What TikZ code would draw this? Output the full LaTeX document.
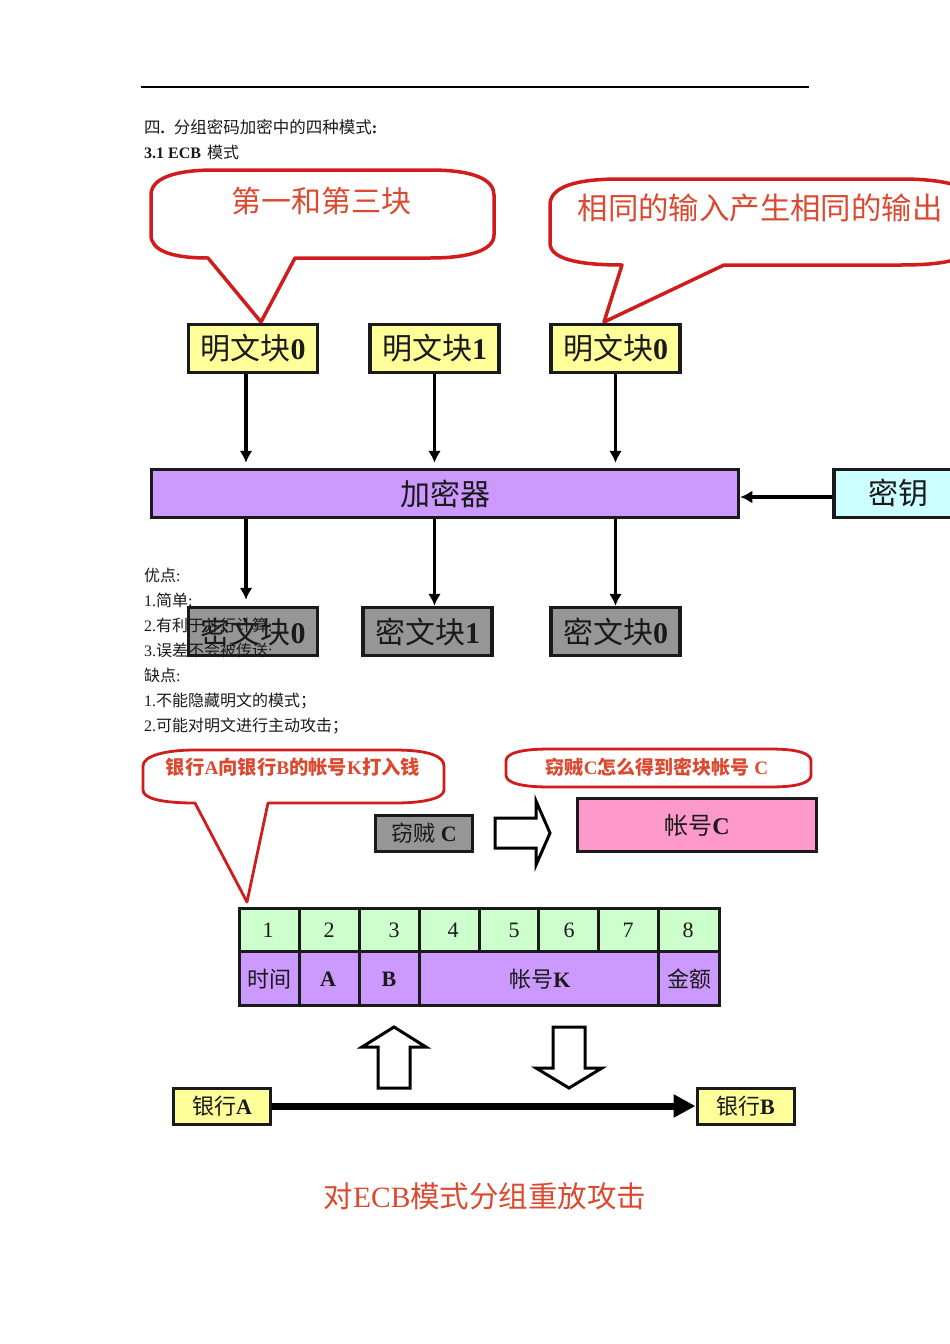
\documentclass[tikz,border=0pt]{standalone}
\usepackage{fontspec}
\usetikzlibrary{arrows.meta,calc}
\setmainfont{Liberation Serif}
\newfontfamily\zhfont{Noto Sans CJK SC}
\newcommand{\zh}[1]{{\zhfont #1}}
\newcommand{\fsz}[1]{\fontsize{#1}{#1}\selectfont}
\definecolor{yel}{HTML}{FFFF99}
\definecolor{pur}{HTML}{CC99FF}
\definecolor{cyn}{HTML}{CCFFFF}
\definecolor{gry}{HTML}{969696}
\definecolor{pnk}{HTML}{FF99CC}
\definecolor{grn}{HTML}{CCFFCC}
\definecolor{redl}{HTML}{D01C1C}
\definecolor{redt}{HTML}{DB4A30}
\definecolor{ink}{HTML}{1A1A1A}
\tikzset{
  x=1pt,y=-1pt,
  block/.style={draw=ink,line width=3.5pt,inner sep=0pt,text=ink,font=\fsz{30}},
  smallblock/.style={draw=ink,line width=3pt,inner sep=0pt,text=ink,font=\fsz{22}},
  flow/.style={draw=black,line width=3.5pt,-{Latex[length=12pt,width=13pt]}},
  callout/.style={draw=redl,line width=3.5pt,fill=white,line join=round},
  calloutthin/.style={draw=redl,line width=2.8pt,fill=white,line join=round},
  calltext/.style={text=redt,inner sep=0pt},
  para/.style={anchor=base west,inner sep=0pt,text=ink,font=\fsz{16}},
  hollow/.style={draw=black,line width=3pt,fill=white,line join=miter},
  cell/.style={draw=ink,line width=3pt},
  celltext/.style={inner sep=0pt,text=ink,font=\fsz{22}}
}
\begin{document}
\begin{tikzpicture}
\clip (0,0) rectangle (950,1344);
\fill[white] (0,0) rectangle (950,1344);
\draw[line width=1.5pt,black] (141,87) -- (809,87);

% upper callouts
\draw[callout] (208,258) .. controls (170,258) and (151,250) .. (151,235) -- (151,195)
  .. controls (151,178) and (175,170) .. (215,170) -- (430,170)
  .. controls (475,170) and (494,180) .. (494,195) -- (494,235)
  .. controls (494,250) and (470,258) .. (430,258) -- (295,258) -- (261,322) -- cycle;
\node[calltext,font=\fsz{30}] (call1) at (321,201) {\zh{第一和第三块}};
\draw[callout] (622,265) .. controls (575,265) and (550,258) .. (550,243) -- (550,205)
  .. controls (550,187) and (575,179) .. (620,179) -- (900,179)
  .. controls (935,179) and (960,183) .. (975,195) -- (975,250)
  .. controls (960,262) and (935,265) .. (900,265) -- (724,265) -- (604,322) -- cycle;
\node[calltext,font=\fsz{30.4}] (call2) at (760,208) {\zh{相同的输入产生相同的输出}};

% upper blocks
\node[block,fill=yel,minimum width=129pt,minimum height=48pt] (p0) at (253,348.5) {\zh{明文块}\textbf{0}};
\node[block,fill=yel,minimum width=129pt,minimum height=48pt] (p1) at (434.5,348.5) {\zh{明文块}\textbf{1}};
\node[block,fill=yel,minimum width=129pt,minimum height=48pt] (p2) at (615.5,348.5) {\zh{明文块}\textbf{0}};
\node[block,fill=pur,minimum width=587pt,minimum height=48pt] (enc) at (445,493.5) {\raisebox{-1.5pt}{\zh{加密器}}};
\node[block,fill=cyn,minimum width=130pt,minimum height=48pt] (key) at (899,493.5) {\raisebox{-1.5pt}{\hspace*{-2pt}\zh{密钥}}};
\node[block,fill=gry,minimum width=129pt,minimum height=48pt] (c0) at (253,631.5) {\zh{密文块}\textbf{0}};
\node[block,fill=gry,minimum width=129pt,minimum height=48pt] (c1) at (427.5,631.5) {\zh{密文块}\textbf{1}};
\node[block,fill=gry,minimum width=129pt,minimum height=48pt] (c2) at (615.5,631.5) {\zh{密文块}\textbf{0}};

\coordinate (a0) at ($(p0.south)+(-7,0)$);
\coordinate (a1) at (p1.south);
\coordinate (a2) at (p2.south);
\draw[flow,shorten >=5pt] (a0) -- (a0 |- enc.north);
\draw[flow,shorten >=5pt] (a1) -- (a1 |- enc.north);
\draw[flow,shorten >=5pt] (a2) -- (a2 |- enc.north);
\coordinate (b0) at ($(c0.north)+(-7,0)$);
\coordinate (b1) at ($(c1.north)+(7,0)$);
\coordinate (b2) at (c2.north);
\draw[flow,shorten >=6pt] (b0 |- enc.south) -- (b0);
\draw[flow] (b1 |- enc.south) -- (b1);
\draw[flow] (b2 |- enc.south) -- (b2);
\coordinate (k0) at ($(key.west)+(0,3.5)$);
\draw[flow] (k0) -- (k0 -| enc.east);

% body text
\node[para,font=\fsz{16.5}] (t1) at (144,133) {\zh{四}\textbf{.}\hspace{9pt}\zh{分组密码加密中的四种模式}\textbf{:}};
\node[para] (t2) at (144,158) {\textbf{3.1 ECB}\hspace{6pt}\zh{模式}};
\node[para] (t3) at (144,581) {\zh{优点}:};
\node[para] (t4) at (144,606) {1.\zh{简单}:};
\node[para] (t5) at (144,631) {2.\zh{有利于并行计算}:};
\node[para] (t6) at (144,656) {3.\zh{误差不会被传送}:};
\node[para] (t7) at (144,681) {\zh{缺点}:};
\node[para] (t8) at (144,706) {1.\zh{不能隐藏明文的模式；}};
\node[para] (t9) at (144,731) {2.\zh{可能对明文进行主动攻击；}};

% lower callouts
\draw[calloutthin] (195,803) .. controls (160,803) and (143,798) .. (143,790) -- (143,766)
  .. controls (143,756) and (165,750) .. (195,750) -- (395,750)
  .. controls (428,750) and (444,756) .. (444,766) -- (444,790)
  .. controls (444,798) and (425,803) .. (395,803) -- (268,803) -- (247,902) -- cycle;
\node[calltext,font=\fsz{19.3}\bfseries] (call3) at (293,767) {\zh{银行}A\zh{向银行}B\zh{的帐号}K\zh{打入钱}};
\draw[calloutthin] (550,749) -- (770,749) .. controls (800,749) and (811,754) .. (811,761)
  -- (811,775) .. controls (811,782) and (800,787) .. (770,787) -- (550,787)
  .. controls (518,787) and (506,782) .. (506,775) -- (506,761)
  .. controls (506,754) and (518,749) .. (550,749) -- cycle;
\node[calltext,font=\fsz{19}\bfseries] (call4) at (657,767) {\zh{窃贼}C\zh{怎么得到密块帐号} C};

% thief
\node[smallblock,fill=gry,minimum width=97pt,minimum height=36pt] (thief) at (424,833) {\zh{窃贼} \textbf{C}};
\node[smallblock,fill=pnk,minimum width=239pt,minimum height=53pt,font=\fsz{24}] (acc) at (697,825) {\zh{帐号}\textbf{C}};
\draw[hollow] (495,818) -- (536,818) -- (536,801) -- (550,833) -- (536,865) -- (536,848) -- (495,848) -- cycle;

% table
\fill[grn] (239,908) rectangle (719,951);
\fill[pur] (239,951) rectangle (719,1005);
\draw[cell] (239,908) rectangle (719,1005);
\draw[cell] (239,951) -- (719,951);
\foreach \xx in {299,359,419,658} \draw[cell] (\xx,908) -- (\xx,1005);
\foreach \xx in {479,538,598} \draw[cell] (\xx,908) -- (\xx,951);
\foreach \xx/\nn/\lab in {268/n1/1,329/n2/2,394/n3/3,453/n4/4,514/n5/5,569/n6/6,628/n7/7,688/n8/8}
  \node[celltext] (\nn) at (\xx,930) {\lab};
\node[celltext] (f1) at (269,979) {\zh{时间}};
\node[celltext] (f2) at (328,979) {\textbf{A}};
\node[celltext] (f3) at (389,979) {\textbf{B}};
\node[celltext] (f4) at (540,979) {\zh{帐号}\textbf{K}};
\node[celltext] (f5) at (689,979) {\zh{金额}};

% hollow up / down
\draw[hollow] (394,1027) -- (426,1047) -- (410,1047) -- (410,1088) -- (378,1088) -- (378,1047) -- (362,1047) -- cycle;
\draw[hollow] (553,1027) -- (585,1027) -- (585,1068) -- (602,1068) -- (569,1088) -- (536,1068) -- (553,1068) -- cycle;

% banks
\node[smallblock,fill=yel,minimum width=97pt,minimum height=36pt] (ba) at (222,1106) {\zh{银行}\textbf{A}};
\node[smallblock,fill=yel,minimum width=97pt,minimum height=36pt] (bb) at (745.5,1106) {\zh{银行}\textbf{B}};
\draw[draw=black,line width=7pt,-{Triangle[length=22pt,width=22pt]}] (ba.east) -- (bb.west);

\node[text=redt,inner sep=0pt,font=\fsz{29.5}] (title) at (485,1196) {\zh{对}ECB\zh{模式分组重放攻击}};
\end{tikzpicture}
\end{document}
